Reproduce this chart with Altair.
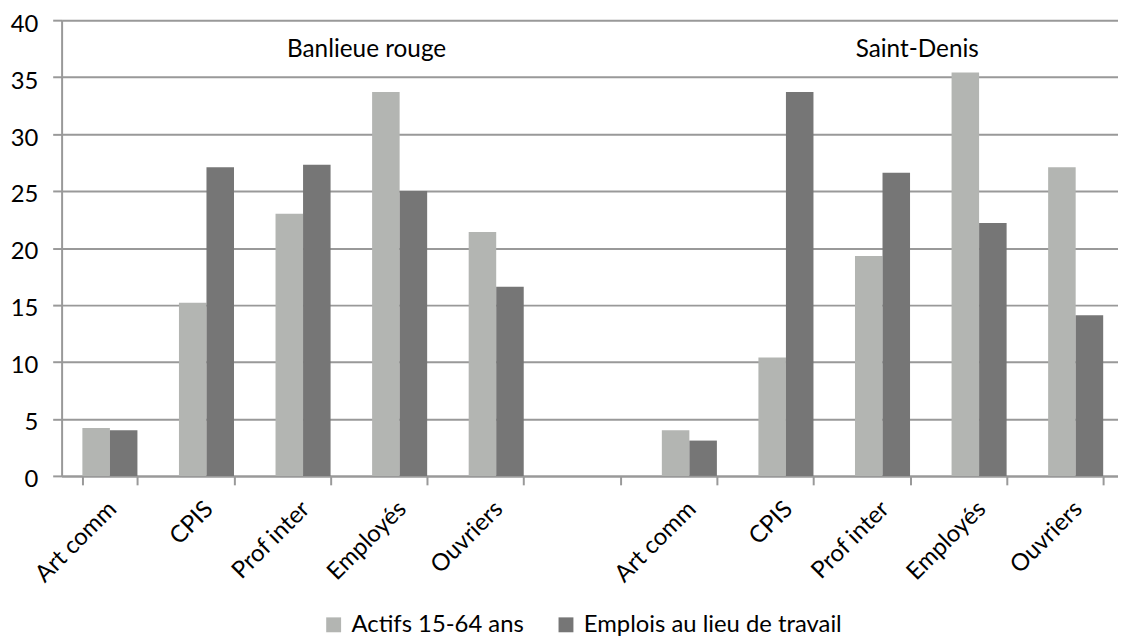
import altair as alt
import pandas as pd

categories = ["Art comm", "CPIS", "Prof inter", "Employés", "Ouvriers"]
series = ["Actifs 15-64 ans", "Emplois au lieu de travail"]
zones = ["Banlieue rouge", "Saint-Denis"]

actifs_br = [4.2, 15.2, 23.0, 33.7, 21.4]
emplois_br = [4.0, 27.1, 27.3, 25.0, 16.6]
actifs_sd = [4.0, 10.4, 19.3, 35.4, 27.1]
emplois_sd = [3.1, 33.7, 26.6, 22.2, 14.1]

colors = ["#b3b5b2", "#767676"]
y_ticks = [0, 5, 10, 15, 20, 25, 30, 35, 40]

rows = []
for prefix, act, emp in [("BR", actifs_br, emplois_br), ("SD", actifs_sd, emplois_sd)]:
    for c, a, e in zip(categories, act, emp):
        rows.append({"key": f"{prefix}|{c}", "serie": series[0], "value": a})
        rows.append({"key": f"{prefix}|{c}", "serie": series[1], "value": e})
df = pd.DataFrame(rows)

domain = [f"BR|{c}" for c in categories] + ["gap|"] + [f"SD|{c}" for c in categories]

FONT = "Lato"
GRID = "#999999"
FS = 24

x_scale = alt.Scale(domain=domain, range=[0, 1070], paddingInner=0.43, paddingOuter=0.215)
y_scale = alt.Scale(domain=[0, 40])

bars = alt.Chart(df).mark_bar().encode(
    x=alt.X("key:N", scale=x_scale,
            axis=alt.Axis(title=None, labelExpr="split(datum.value, '|')[1]",
                          labelAngle=-45, labelAlign="right", labelBaseline="top",
                          labelOffset=-6, tickBand="extent", tickSize=9,
                          domainColor=GRID, tickColor=GRID, domainWidth=2, tickWidth=2,
                          labelFontSize=FS, labelFont=FONT, labelColor="black",
                          labelPadding=12, grid=False)),
    xOffset=alt.XOffset("serie:N", sort=series, scale=alt.Scale(paddingInner=0, paddingOuter=0)),
    y=alt.Y("value:Q", scale=y_scale,
            axis=alt.Axis(title=None, values=y_ticks, grid=True, gridColor=GRID, gridWidth=2,
                          domainColor=GRID, domainWidth=2, tickColor=GRID, tickWidth=2, tickSize=9,
                          labelFontSize=FS, labelFont=FONT, labelColor="black", labelPadding=15,
                          labelOffset=4)),
    color=alt.Color("serie:N", sort=series,
                    scale=alt.Scale(domain=series, range=colors),
                    legend=alt.Legend(title=None, orient="none", legendX=262, legendY=597,
                                      direction="horizontal", symbolType="square", symbolSize=225,
                                      symbolStrokeWidth=0, labelFontSize=FS, labelFont=FONT,
                                      labelColor="black", columnPadding=30, labelOffset=6,
                                      labelLimit=0)),
)

ann_br = pd.DataFrame({"key": ["BR|Prof inter"], "value": [36.8], "label": [zones[0]]})
ann_sd = pd.DataFrame({"key": ["SD|Prof inter"], "value": [36.8], "label": [zones[1]]})

t1 = alt.Chart(ann_br).mark_text(font=FONT, fontSize=24.5, color="black", baseline="alphabetic",
                                 align="center", dx=64).encode(
    x=alt.X("key:N", scale=x_scale), y=alt.Y("value:Q", scale=y_scale), text="label:N")
t2 = alt.Chart(ann_sd).mark_text(font=FONT, fontSize=24.5, color="black", baseline="alphabetic",
                                 align="center", dx=35).encode(
    x=alt.X("key:N", scale=x_scale), y=alt.Y("value:Q", scale=y_scale), text="label:N")

chart = alt.layer(bars, t1, t2).properties(
    width=1064, height=459,
    autosize=alt.AutoSizeParams(type="none"),
    padding={"left": 54, "top": 10, "right": 0, "bottom": 160},
).configure_view(stroke=None)

chart.save("out.html", embed_options={"renderer": "svg", "actions": False})
